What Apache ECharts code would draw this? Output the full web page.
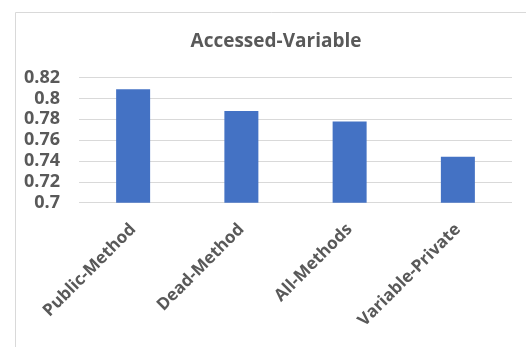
<!DOCTYPE html>
<html>
<head>
<meta charset="utf-8">
<script src="https://cdn.jsdelivr.net/npm/echarts@6/dist/echarts.min.js"></script>
<style>
  html, body { margin: 0; padding: 0; background: #fff; }
  #chart { width: 526px; height: 347px; }
</style>
</head>
<body>
<div id="chart"></div>
<script>
// Accuracy scores per refactoring type
const categories = ['Public-Method', 'Dead-Method', 'All-Methods', 'Variable-Private'];
const scores = [0.809, 0.788, 0.778, 0.744];
const yTicks = { min: 0.7, max: 0.82, step: 0.02 };

const FONT = '"Open Sans", "Liberation Sans", sans-serif';
const TEXT = '#595959';

const chart = echarts.init(document.getElementById('chart'), null, { renderer: 'canvas' });
chart.setOption({
  animation: false,
  backgroundColor: '#ffffff',
  graphic: [{
    type: 'rect',
    shape: { x: 15.5, y: 12.5, width: 560, height: 400 },
    style: { fill: 'none', stroke: '#d9d9d9', lineWidth: 1 },
    silent: true
  }],
  title: {
    text: 'Accessed-Variable',
    left: 271,
    textAlign: 'center',
    top: 27,
    textStyle: { fontFamily: FONT, fontWeight: 'bold', fontSize: 19, color: TEXT }
  },
  grid: { left: 79, right: 14, top: 77.7, bottom: 144.3, containLabel: false },
  xAxis: {
    type: 'category',
    data: categories,
    axisLine: { show: false },
    axisTick: { show: false },
    axisLabel: {
      rotate: 45,
      interval: 0,
      margin: 24,
      fontFamily: FONT,
      fontWeight: 'bold',
      fontSize: 17,
      color: TEXT
    }
  },
  yAxis: {
    type: 'value',
    min: yTicks.min,
    max: yTicks.max,
    interval: yTicks.step,
    axisLine: { show: false },
    axisTick: { show: false },
    splitLine: { lineStyle: { color: '#d9d9d9', width: 1 } },
    axisLabel: {
      margin: 19,
      fontFamily: FONT,
      fontWeight: 'bold',
      fontSize: 18,
      color: TEXT,
      formatter: v => String(parseFloat(v.toFixed(2)))
    }
  },
  series: [{
    type: 'bar',
    data: scores,
    barWidth: 34,
    itemStyle: { color: '#4472c4' }
  }]
});
</script>
</body>
</html>
